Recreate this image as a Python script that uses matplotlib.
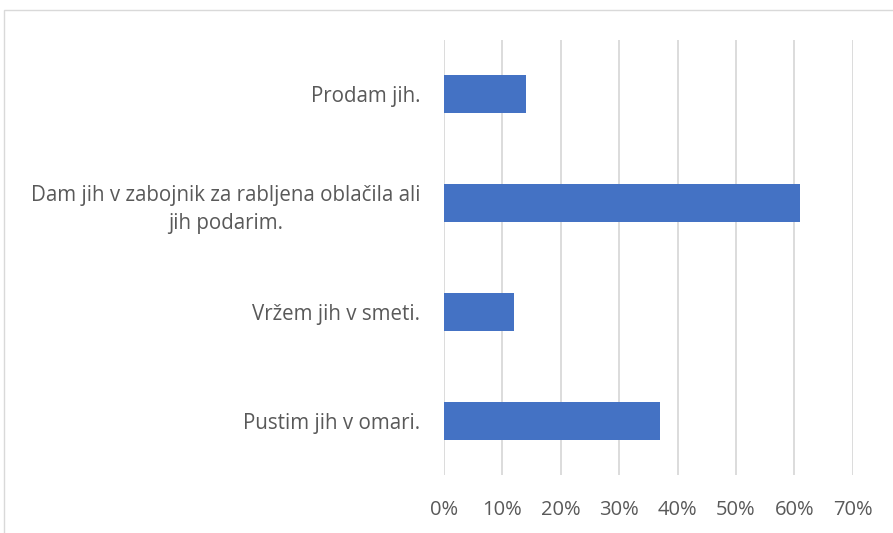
import matplotlib.pyplot as plt
from matplotlib.patches import Rectangle

categories = ["Pustim jih v omari.",
              "Vržem jih v smeti.",
              "Dam jih v zabojnik za rabljena oblačila ali\njih podarim.",
              "Prodam jih."]
values = [37, 12, 61, 14]
xticks = [0, 10, 20, 30, 40, 50, 60, 70]
xtick_labels = ["0%", "10%", "20%", "30%", "40%", "50%", "60%", "70%"]

plt.rcParams['font.family'] = ['Open Sans', 'DejaVu Sans']
text_col = '#595959'

fig = plt.figure(figsize=(8.93, 5.33), dpi=100)
ax = fig.add_axes([0.497, 0.109, 0.458, 0.816])

ax.barh(range(len(categories)), values, height=0.35, color='#4472C4', zorder=3)

ax.set_xlim(0, 70)
ax.set_ylim(-0.5, 3.5)
ax.set_xticks(xticks)
ax.set_xticklabels(xtick_labels, fontsize=14.5, color=text_col)
ax.set_yticks(range(len(categories)))
ax.set_yticklabels(categories, fontsize=14.8, color=text_col,
                   multialignment='center', linespacing=1.45)
ax.tick_params(axis='both', length=0)
ax.tick_params(axis='x', pad=18)
ax.tick_params(axis='y', pad=17)
ax.grid(axis='x', color='#D9D9D9', linewidth=1.3, zorder=0)
for s in ax.spines.values():
    s.set_visible(False)

# outer chart border (runs off the right and bottom edge)
fig.patches.append(Rectangle((4 / 893, -0.1), 1.1, 1.1 - 10 / 533,
                             transform=fig.transFigure, fill=False,
                             edgecolor='#D9D9D9', linewidth=1.0))

fig.savefig('out.png', dpi=100)
